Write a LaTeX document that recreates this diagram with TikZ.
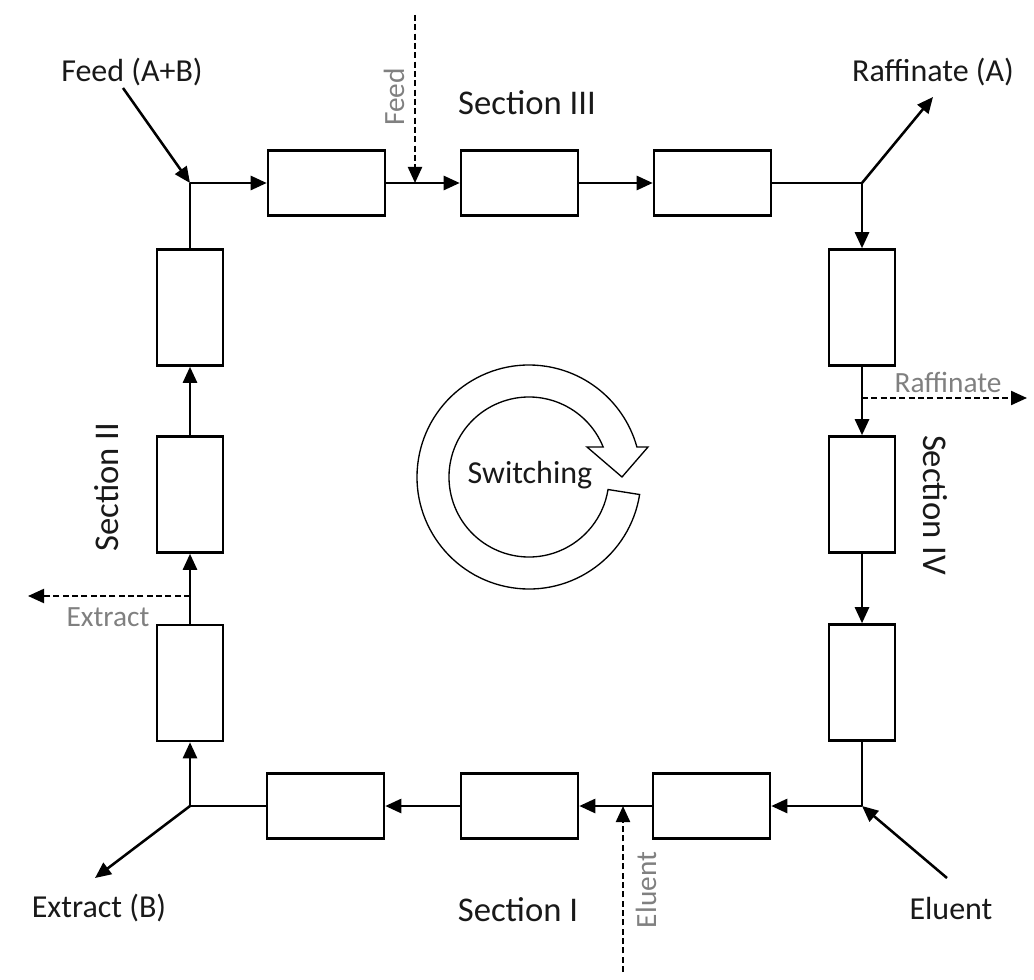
\documentclass[tikz,border=0pt]{standalone}
\usepackage{fontspec}
\setmainfont{Carlito}
\usetikzlibrary{arrows.meta}
\begin{document}
\begin{tikzpicture}[x=0.75pt,y=-0.75pt,
  col/.style={draw,line width=1.9pt,fill=white,inner sep=0pt},
  hcol/.style={col,minimum width=87.75pt,minimum height=48.75pt},
  vcol/.style={col,minimum width=49.5pt,minimum height=87pt},
  flow/.style={line width=1.9pt,-{Triangle[length=12pt,width=10.5pt]}},
  plain/.style={line width=1.9pt},
  side/.style={line width=1.6pt,dash pattern=on 4.5pt off 2.5pt,-{Triangle[length=12pt,width=10.5pt]}},
  lab/.style={inner sep=0pt,text=black!90,font=\fontsize{24}{28}\selectfont},
  sec/.style={inner sep=0pt,text=black!90,font=\fontsize{26}{30}\selectfont},
  grey/.style={inner sep=0pt,text=black!50,font=\fontsize{22}{26}\selectfont},
  ring/.style={draw,line width=1pt,fill=white}]
\useasboundingbox (0,0) rectangle (1034,980);

% junctions
\coordinate (TL) at (190,183);
\coordinate (TR) at (862,183);
\coordinate (BR) at (862,806);
\coordinate (BL) at (190,806);

% columns
\node[hcol] (t1) at (326.5,183) {};
\node[hcol] (t2) at (519.5,183) {};
\node[hcol] (t3) at (712.5,183) {};
\node[vcol] (r1) at (862,307.5) {};
\node[vcol] (r2) at (862,494.5) {};
\node[vcol] (r3) at (862,682.5) {};
\node[hcol] (b3) at (711.5,806) {};
\node[hcol] (b2) at (519.5,806) {};
\node[hcol] (b1) at (325.5,806) {};
\node[vcol] (l3) at (190,683) {};
\node[vcol] (l2) at (190,494.5) {};
\node[vcol] (l1) at (190,307.5) {};

% loop connectors
\draw[flow] (TL) -- (t1.west);
\draw[flow] (t1.east) -- (t2.west);
\draw[flow] (t2.east) -- (t3.west);
\draw[plain] (t3.east) -- (TR);
\draw[flow] (TR) -- (r1.north);
\draw[flow] (r1.south) -- (r2.north);
\draw[flow] (r2.south) -- (r3.north);
\draw[plain] (r3.south) -- (BR);
\draw[flow] (BR) -- (b3.east);
\draw[flow] (b3.west) -- (b2.east);
\draw[flow] (b2.west) -- (b1.east);
\draw[plain] (b1.west) -- (BL);
\draw[flow] (BL) -- (l3.south);
\draw[flow] (l3.north) -- (l2.south);
\draw[flow] (l2.north) -- (l1.south);
\draw[plain] (l1.north) -- (TL);

% main labels and ports
\node[lab] (feedAB) at (132,72) {Feed (A+B)};
\node[lab] (rafA) at (933,72) {Raffinate (A)};
\node[lab] (extB) at (99,908) {Extract (B)};
\node[lab] (elu) at (951,908) {Eluent};
\coordinate (feedABs) at (123,88);
\coordinate (rafAt) at (933,97);
\coordinate (extBt) at (95,878);
\coordinate (elus) at (947,878);
\draw[flow] (feedABs) -- (TL);
\draw[flow] (TR) -- (rafAt);
\draw[flow] (BL) -- (extBt);
\draw[flow] (elus) -- (BR);

% section labels
\node[sec] (s3) at (527,103) {Section III};
\node[sec,rotate=-90] (s4) at (935,505) {Section IV};
\node[sec] (s1) at (518,910) {Section I};
\node[sec,rotate=90] (s2) at (107,487) {Section II};

% dashed side streams
\coordinate (feedTop) at (415,15);
\coordinate (feedJ) at (415,183);
\draw[side] (feedTop) -- (feedJ);
\node[grey,rotate=90] (feedL) at (394,97) {Feed};

\coordinate (rafJ) at (862,398);
\coordinate (rafEnd) at (1027,398);
\draw[side] (rafJ) -- (rafEnd);
\node[grey] (rafL) at (948,382) {Raffinate};

\coordinate (extJ) at (190,596);
\coordinate (extEnd) at (28,596);
\draw[side] (extJ) -- (extEnd);
\node[grey] (extL) at (108,617) {Extract};

\coordinate (eluBot) at (623,972);
\coordinate (eluJ) at (623,806);
\draw[side] (eluBot) -- (eluJ);
\node[grey,rotate=90] (eluL) at (646,890) {Eluent};

% switching ring
\begin{scope}[shift={(529,477)}]
\draw[ring] (9:112) arc[start angle=9,end angle=344.5,radius=112]
  -- (119,-30) -- (93,0) -- (58,-30) -- (338:80)
  arc[start angle=338,end angle=9,radius=80] -- cycle;
\end{scope}
\node[lab] (sw) at (530,475) {Switching};
\end{tikzpicture}
\end{document}
